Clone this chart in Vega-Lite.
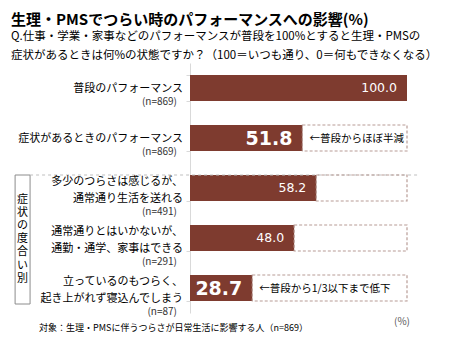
{
  "$schema": "https://vega.github.io/schema/vega-lite/v6.json",
  "width": 217,
  "height": 250,
  "autosize": {"type": "none"},
  "padding": {"left": 190, "top": 63, "right": 43, "bottom": 27},
  "background": "white",
  "config": {
    "view": {"stroke": null},
    "font": "Noto Sans CJK JP",
    "axisX": {"labels": false, "ticks": false, "domain": false, "grid": false},
    "axisY": {
      "labels": false,
      "domainColor": "#d9d9d9", "tickColor": "#d9d9d9", "tickSize": 4, "tickBand": "extent", "grid": false
    }
  },
  "title": {
    "text": "生理・PMSでつらい時のパフォーマンスへの影響(%)",
    "subtitle": ["Q.仕事・学業・家事などのパフォーマンスが普段を100%とすると生理・PMSの", "症状があるときは何%の状態ですか？（100＝いつも通り、0＝何もできなくなる）"],
    "anchor": "start",
    "frame": "group",
    "dx": -179,
    "offset": 2,
    "font": "Noto Sans CJK JP",
    "fontSize": 15,
    "fontWeight": "bold",
    "color": "#000000",
    "subtitleFont": "Noto Sans CJK JP",
    "subtitleFontSize": 11.5,
    "subtitleColor": "#000000",
    "subtitleLineHeight": 19,
    "subtitlePadding": 3
  },
  "datasets": {
    "perf": [
      {"cat": "普段のパフォーマンス", "n": "(n=869)", "value": 100.0, "note": null},
      {"cat": "症状があるときのパフォーマンス", "n": "(n=869)", "value": 51.8, "note": "←普段からほぼ半減"},
      {"cat": "多少のつらさは感じるが、\n通常通り生活を送れる", "n": "(n=491)", "value": 58.2, "note": null},
      {"cat": "通常通りとはいかないが、\n通勤・通学、家事はできる", "n": "(n=291)", "value": 48.0, "note": null},
      {"cat": "立っているのもつらく、\n起き上がれず寝込んでしまう", "n": "(n=87)", "value": 28.7, "note": "←普段から1/3以下まで低下"}
    ],
    "one": [{}]
  },
  "layer": [
    {
      "data": {"name": "perf"},
      "mark": {"type": "bar", "color": "#7e3b2f"},
      "encoding": {
        "x": {
          "field": "value", "type": "quantitative",
          "scale": {"domain": [0, 100], "nice": false, "zero": false},
          "axis": {
            "title": "対象：生理・PMSに伴うつらさが日常生活に影響する人（n=869）",
            "titleFont": "Noto Sans CJK JP", "titleFontSize": 9, "titleFontWeight": "normal", "titleColor": "#000000",
            "titleX": -17, "titleY": 14, "titleAlign": "center", "titleBaseline": "middle"
          }
        },
        "y": {
          "field": "cat", "type": "nominal", "sort": null,
          "scale": {
            "domain": ["普段のパフォーマンス", "症状があるときのパフォーマンス", "多少のつらさは感じるが、\n通常通り生活を送れる", "通常通りとはいかないが、\n通勤・通学、家事はできる", "立っているのもつらく、\n起き上がれず寝込んでしまう"],
            "paddingInner": 0.48, "paddingOuter": 0.24
          },
          "axis": {"title": null}
        }
      }
    },
    {
      "data": {"name": "one"},
      "mark": {"type": "rect", "fill": "white", "stroke": "#8c8c8c", "strokeWidth": 1, "y2Offset": 16},
      "encoding": {
        "x": {"datum": -80.6, "type": "quantitative"},
        "x2": {"datum": -73.7},
        "y": {"datum": "多少のつらさは感じるが、\n通常通り生活を送れる", "type": "nominal", "bandPosition": 0},
        "y2": {"datum": "立っているのもつらく、\n起き上がれず寝込んでしまう"}
      }
    },
    {
      "data": {"name": "one"},
      "mark": {"type": "text", "text": ["症", "状", "の", "度", "合", "い", "別"], "fontSize": 11, "lineHeight": 13.2, "baseline": "middle", "align": "center", "dy": 11.5, "color": "#000000"},
      "encoding": {
        "x": {"datum": -77.2, "type": "quantitative"},
        "y": {"datum": "多少のつらさは感じるが、\n通常通り生活を送れる", "type": "nominal"}
      }
    },
    {
      "data": {"name": "one"},
      "mark": {"type": "rule", "color": "#bfbfbf", "strokeWidth": 1, "strokeDash": [3, 3]},
      "encoding": {
        "x": {"datum": -73.7, "type": "quantitative"},
        "x2": {"datum": 105.1},
        "y": {"datum": "多少のつらさは感じるが、\n通常通り生活を送れる", "type": "nominal", "bandPosition": 0}
      }
    },
    {
      "data": {"name": "perf"},
      "transform": [{"filter": "datum.value < 100"}],
      "mark": {"type": "bar", "fill": "transparent", "stroke": "#b89c96", "strokeWidth": 1.2, "strokeDash": [3, 2]},
      "encoding": {
        "x": {"field": "value", "type": "quantitative"},
        "x2": {"datum": 100},
        "y": {"field": "cat", "type": "nominal", "sort": null}
      }
    },
    {
      "data": {"name": "perf"},
      "transform": [{"filter": "datum.note == null"}],
      "mark": {"type": "text", "align": "right", "baseline": "middle", "dx": -10, "font": "DejaVu Sans", "fontSize": 12.5, "color": "white"},
      "encoding": {
        "x": {"field": "value", "type": "quantitative"},
        "y": {"field": "cat", "type": "nominal", "sort": null},
        "text": {"field": "value", "type": "quantitative", "format": ".1f"}
      }
    },
    {
      "data": {"name": "perf"},
      "transform": [{"filter": "datum.note != null"}],
      "mark": {"type": "text", "align": "right", "baseline": "middle", "dx": -10, "dy": 1, "font": "DejaVu Sans", "fontSize": 19, "fontWeight": "bold", "color": "white"},
      "encoding": {
        "x": {"field": "value", "type": "quantitative"},
        "y": {"field": "cat", "type": "nominal", "sort": null},
        "text": {"field": "value", "type": "quantitative", "format": ".1f"}
      }
    },
    {
      "data": {"name": "perf"},
      "transform": [{"filter": "datum.note != null"}],
      "mark": {"type": "text", "align": "left", "baseline": "middle", "dx": 7, "dy": 1, "fontSize": 10.5, "color": "#000000"},
      "encoding": {
        "x": {"field": "value", "type": "quantitative"},
        "y": {"field": "cat", "type": "nominal", "sort": null},
        "text": {"field": "note"}
      }
    },
    {
      "data": {"name": "perf"},
      "transform": [{"filter": "indexof(datum.cat, '\\n') < 0"}],
      "mark": {"type": "text", "align": "right", "baseline": "middle", "dx": -7, "dy": 1, "fontSize": 11, "color": "#000000"},
      "encoding": {
        "x": {"datum": 0, "type": "quantitative"},
        "y": {"field": "cat", "type": "nominal", "sort": null},
        "text": {"field": "cat"}
      }
    },
    {
      "data": {"name": "perf"},
      "transform": [{"filter": "indexof(datum.cat, '\\n') >= 0"}],
      "mark": {"type": "text", "align": "right", "baseline": "middle", "dx": -7, "dy": -6, "lineBreak": "\n", "lineHeight": 16.5, "fontSize": 11, "color": "#000000"},
      "encoding": {
        "x": {"datum": 0, "type": "quantitative"},
        "y": {"field": "cat", "type": "nominal", "sort": null},
        "text": {"field": "cat"}
      }
    },
    {
      "data": {"name": "perf"},
      "transform": [{"filter": "indexof(datum.cat, '\\n') < 0"}],
      "mark": {"type": "text", "align": "right", "baseline": "middle", "dx": -13, "dy": 14, "fontSize": 10, "color": "#333333"},
      "encoding": {
        "x": {"datum": 0, "type": "quantitative"},
        "y": {"field": "cat", "type": "nominal", "sort": null},
        "text": {"field": "n"}
      }
    },
    {
      "data": {"name": "perf"},
      "transform": [{"filter": "indexof(datum.cat, '\\n') >= 0"}],
      "mark": {"type": "text", "align": "right", "baseline": "middle", "dx": -13, "dy": 23.5, "fontSize": 10, "color": "#333333"},
      "encoding": {
        "x": {"datum": 0, "type": "quantitative"},
        "y": {"field": "cat", "type": "nominal", "sort": null},
        "text": {"field": "n"}
      }
    },
    {
      "data": {"name": "one"},
      "mark": {"type": "text", "text": "(%)", "align": "center", "baseline": "middle", "dx": -5, "dy": 34, "fontSize": 10, "color": "#595959"},
      "encoding": {
        "x": {"datum": 100, "type": "quantitative"},
        "y": {"datum": "立っているのもつらく、\n起き上がれず寝込んでしまう", "type": "nominal"}
      }
    }
  ]
}
